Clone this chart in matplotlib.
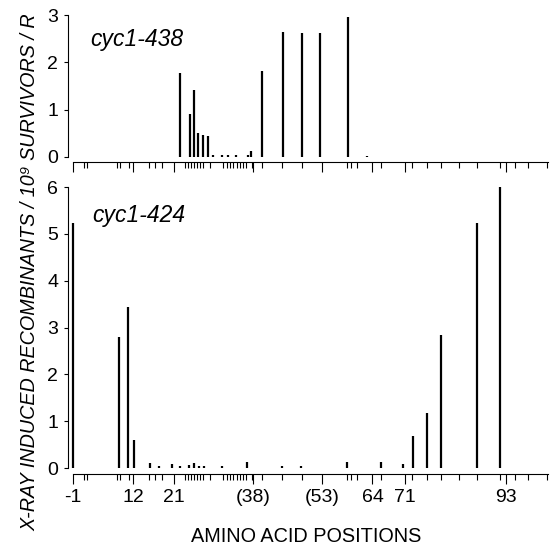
import matplotlib
matplotlib.use('Agg')
import matplotlib.pyplot as plt

plt.rcParams['font.family'] = ['Liberation Sans', 'DejaVu Sans']

# cyc1-438 数据
pos_438 = [22.2, 24.4, 25.3, 26.1, 27.2, 28.3, 29.4, 31.3, 32.7, 34.4, 37.0, 37.6,
           40.0, 44.6, 48.7, 52.6, 58.7, 62.8]
val_438 = [1.78, 0.90, 1.42, 0.51, 0.47, 0.44, 0.04, 0.04, 0.04, 0.04, 0.04, 0.12,
           1.82, 2.64, 2.62, 2.62, 2.96, 0.03]

# cyc1-424 数据
pos_424 = [-1, 9.0, 10.9, 12.2, 15.7, 17.7, 20.5, 22.2, 24.2, 25.3, 26.4, 27.4, 31.3,
           36.8, 44.4, 48.5, 58.5, 65.9, 70.6, 72.8, 75.9, 78.9, 86.7, 91.7]
val_424 = [5.23, 2.80, 3.44, 0.60, 0.10, 0.04, 0.08, 0.04, 0.06, 0.10, 0.04, 0.04, 0.04,
           0.12, 0.04, 0.04, 0.12, 0.12, 0.08, 0.68, 1.18, 2.84, 5.23, 6.00]

# x 轴刻度
major_ticks = [-1, 12, 21, 38, 53, 64, 71, 93]
major_labels = ['-1', '12', '21', '(38)', '(53)', '64', '71', '93']
minor_ticks = [1.4, 2.0, 8.6, 9.2, 11.2, 15.5, 16.8, 18.3, 23.3, 24.0, 24.6, 25.3,
               25.9, 26.6, 27.2, 28.8, 31.6, 32.5, 33.1, 33.7, 34.6, 35.3, 35.9, 36.6,
               37.9, 40.0, 44.4, 48.7, 58.5, 59.4, 60.7, 65.9, 72.6, 75.9, 78.9, 82.8,
               86.7, 91.7, 94.9, 97.8, 101.9]

fig = plt.figure(figsize=(5.5, 5.5), dpi=100)
ax1 = fig.add_axes([68 / 550, 1 - 162 / 550, 480 / 550, 147 / 550])
ax2 = fig.add_axes([68 / 550, 1 - 474 / 550, 480 / 550, 287 / 550])


def style(ax, ymax, ymin):
    ax.set_xlim(-2.09, 102.1)
    ax.set_ylim(ymin, ymax)
    for s in ['top', 'right']:
        ax.spines[s].set_visible(False)
    ax.spines['left'].set_bounds(0, ymax)
    ax.spines['bottom'].set_bounds(-1, 102.1)
    for s in ['left', 'bottom']:
        ax.spines[s].set_linewidth(0.8)
    ax.set_yticks(range(0, ymax + 1))
    ax.set_xticks(major_ticks)
    ax.set_xticks(minor_ticks, minor=True)
    ax.tick_params(axis='x', which='major', length=7, width=0.8, direction='out')
    ax.tick_params(axis='x', which='minor', length=4, width=0.8, direction='out')
    ax.tick_params(axis='y', length=3, width=0.8, labelsize=14, pad=4)


ax1.vlines(pos_438, 0, val_438, colors='black', linewidth=1.6)
style(ax1, 3, -0.106)
ax1.set_xticklabels([])
ax1.text(0.046, 0.83, 'cyc1-438', transform=ax1.transAxes, fontsize=16.5,
         style='italic', va='center', ha='left')

ax2.vlines(pos_424, 0, val_424, colors='black', linewidth=1.6)
style(ax2, 6, -0.128)
ax2.set_xticklabels(major_labels, fontsize=14)
ax2.text(0.05, 0.90, 'cyc1-424', transform=ax2.transAxes, fontsize=16.5,
         style='italic', va='center', ha='left')

fig.text(0.557, 1 - 537 / 550, 'AMINO ACID POSITIONS', fontsize=14.3,
         ha='center', va='center')
fig.text(0.055, 1 - 272 / 550, 'X-RAY INDUCED RECOMBINANTS / 10⁹ SURVIVORS / R',
         fontsize=14.2, style='italic', rotation=90, ha='center', va='center')

fig.savefig('out.png', dpi=100)
